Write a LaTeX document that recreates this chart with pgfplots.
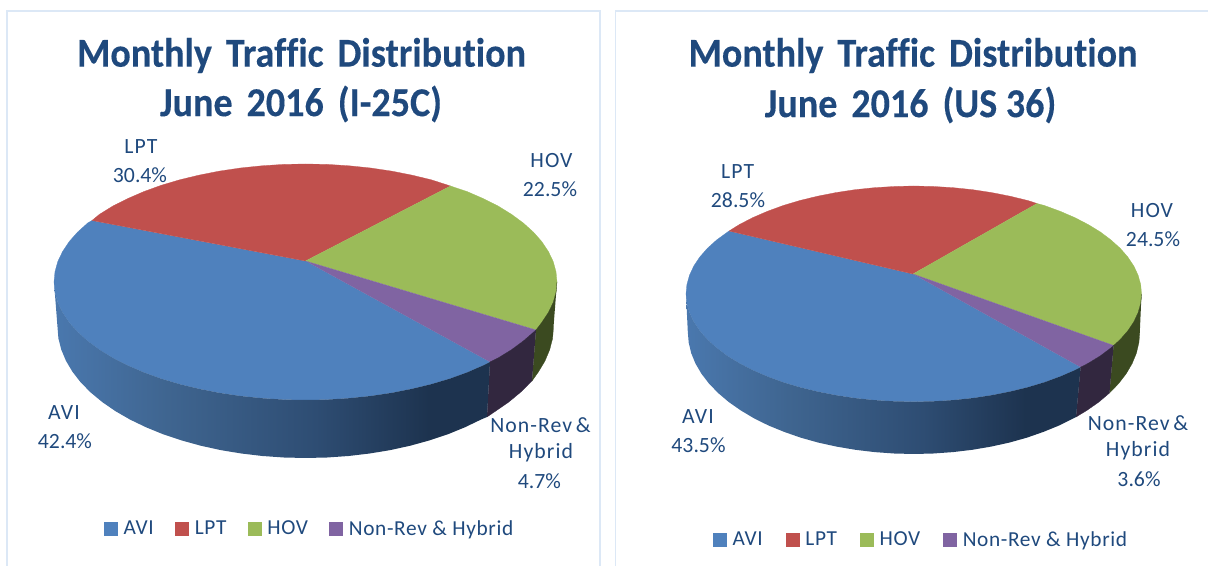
\documentclass[border=0pt]{standalone}
\usepackage{graphicx}
\usepackage{pgfplots}
\pgfplotsset{compat=1.18}
\usepackage{fontspec}
\setmainfont{Carlito}[Ligatures=NoCommon]
\definecolor{aviC}{HTML}{4F81BD}
\definecolor{lptC}{HTML}{C0504D}
\definecolor{hovC}{HTML}{9BBB59}
\definecolor{nonC}{HTML}{8064A2}
\definecolor{hovS}{HTML}{3B4A20}
\definecolor{nonS}{HTML}{32273F}
\definecolor{txtC}{HTML}{1F497D}
\definecolor{panC}{HTML}{DCE8F6}
\definecolor{s1}{HTML}{4A78AE}
\definecolor{s2}{HTML}{3F6590}
\definecolor{s3}{HTML}{2E4D73}
\definecolor{s4}{HTML}{1D334F}
\pgfdeclarehorizontalshading{aviside}{100bp}{color(0bp)=(s1); color(25bp)=(s1); color(38bp)=(s2); color(55bp)=(s3); color(68bp)=(s4); color(75bp)=(s4); color(100bp)=(s4)}
\pgfplotsset{
  panel/.style={
    scale only axis, width=906pt, height=424.5pt,
    xmin=0, xmax=1208, ymin=0, ymax=566, y dir=reverse,
    hide axis, clip=false, legend columns=4,
    legend image code/.code={\path[##1,draw=none] (0pt,-5.25pt) rectangle (10.5pt,5.25pt);\path[draw=none,fill=none] (0pt,0pt) rectangle (12.75pt,0.1pt);},
    legend style={draw=none, fill=none, font=\fontsize{16pt}{18pt}\selectfont\addfontfeature{LetterSpace=3}, text=txtC, inner sep=0pt, outer sep=0pt,
      /tikz/every even column/.append style={column sep=14pt}},
  },
}
\newcommand{\dl}[3]{\node[text=txtC, font=\fontsize{16.3pt}{19pt}\selectfont, inner sep=0pt] at (axis cs:#1,#2) {#3};}
\newcommand{\dlt}[3]{\node[text=txtC, font=\fontsize{16.3pt}{19pt}\selectfont\addfontfeature{LetterSpace=5}, inner sep=0pt] at (axis cs:#1,#2) {#3};}
\newcommand{\ttl}[3]{\node[text=txtC, font=\fontsize{28pt}{32pt}\selectfont\bfseries\addfontfeature{FakeBold=0.25}, inner sep=0pt] at (axis cs:#1,#2) {\scalebox{1.02}[1.1]{#3}};}
\newcommand{\wsp}{\hspace{0.14em}}
\begin{document}
\begin{tikzpicture}
\useasboundingbox (0,0) rectangle (906pt,424.5pt);
\begin{axis}[panel, legend style={at={(104/1208,1-529/566)}, anchor=west}]
\addplot[forget plot, draw=panC, line width=1.1pt] coordinates {(7,566)(7,11)(600,11)(600,566)};
% top faces
\addplot[fill=aviC, draw=aviC, line width=0.2pt] coordinates {(305.5,261)(490,362)(483.3,365.4)(467.2,372.4)(449.8,378.7)(431.3,384.2)(411.8,388.9)(391.5,392.9)(370.6,396)(349.2,398.2)(327.4,399.6)(305.5,400)(283.6,399.6)(261.8,398.2)(240.4,396)(219.5,392.9)(199.2,388.9)(179.7,384.2)(161.2,378.7)(143.8,372.4)(127.7,365.4)(112.8,357.9)(99.5,349.7)(87.7,341)(77.6,331.9)(69.2,322.4)(62.6,312.5)(57.8,302.5)(55,292.3)(54,282)(55,271.7)(57.8,261.5)(62.6,251.5)(69.2,241.6)(77.6,232.1)(87.7,223)(92,220.5)};
\addplot[fill=lptC, draw=lptC, line width=0.2pt] coordinates {(305.5,261)(92,220.5)(99.5,214.3)(112.8,206.1)(127.7,198.6)(143.8,191.6)(161.2,185.3)(179.7,179.8)(199.2,175.1)(219.5,171.1)(240.4,168)(261.8,165.8)(283.6,164.4)(305.5,164)(327.4,164.4)(349.2,165.8)(370.6,168)(391.5,171.1)(411.8,175.1)(431.3,179.8)(450.5,186)};
\addplot[fill=hovC, draw=hovC, line width=0.2pt] coordinates {(305.5,261)(450.5,186)(467.2,191.6)(483.3,198.6)(498.2,206.1)(511.5,214.3)(523.3,223)(533.4,232.1)(541.8,241.6)(548.4,251.5)(553.2,261.5)(556,271.7)(557,282)(556,292.3)(553.2,302.5)(548.4,312.5)(541.8,322.4)(536,330)};
\addplot[fill=nonC, draw=nonC, line width=0.2pt] coordinates {(305.5,261)(536,330)(523.3,341)(511.5,349.7)(498.2,357.9)(490,362)};
% sides
\addplot[forget plot, fill=hovS, draw=hovS, line width=0.2pt] coordinates {(557,282)(556,292.3)(553.2,302.5)(548.4,312.5)(541.8,322.4)(536,330)(532,381)(538.5,371.8)(545,360.9)(549.7,349.7)(552.6,338.4)(553.5,327)};
\addplot[forget plot, fill=nonS, draw=nonS, line width=0.2pt] coordinates {(536,330)(523.3,341)(511.5,349.7)(498.2,357.9)(490,362)(487,417)(495.5,411.2)(508.7,402.1)(520.3,392.5)(532,381)};
\addplot[forget plot, draw=none, shading=aviside] coordinates {(490,362)(483.3,365.4)(467.2,372.4)(449.8,378.7)(431.3,384.2)(411.8,388.9)(391.5,392.9)(370.6,396)(349.2,398.2)(327.4,399.6)(305.5,400)(283.6,399.6)(261.8,398.2)(240.4,396)(219.5,392.9)(199.2,388.9)(179.7,384.2)(161.2,378.7)(143.8,372.4)(127.7,365.4)(112.8,357.9)(99.5,349.7)(87.7,341)(77.6,331.9)(69.2,322.4)(62.6,312.5)(57.8,302.5)(55,292.3)(54,282)(57.5,327)(58.4,338.4)(61.3,349.7)(66,360.9)(72.5,371.8)(80.7,382.4)(90.7,392.5)(102.3,402.1)(115.5,411.2)(130.1,419.6)(146.1,427.3)(163.2,434.3)(181.5,440.4)(200.7,445.7)(220.7,450.1)(241.3,453.5)(262.4,456)(283.9,457.5)(305.5,458)(327.1,457.5)(348.6,456)(369.7,453.5)(390.3,450.1)(410.3,445.7)(429.5,440.4)(447.8,434.3)(464.9,427.3)(480.9,419.6)(487,417)};
\legend{AVI,LPT,HOV,Non-Rev \& Hybrid}
\ttl{301.5}{55.5}{Monthly\wsp{} Traffic\wsp{} Distribution}
\ttl{301}{104}{June\wsp{} 2016\wsp{} (I-25C)}
\dlt{141}{147}{LPT}\dl{140}{175}{30.4\%}
\dlt{551.5}{161}{HOV}\dl{550}{189}{22.5\%}
\dlt{64}{413}{AVI}\dl{65}{441}{42.4\%}
\dlt{540.5}{425}{Non-Rev\,\&}\dlt{541}{453}{Hybrid}\dl{539.5}{481}{4.7\%}
\end{axis}
\begin{axis}[panel, legend style={at={(713/1208,1-540/566)}, anchor=west, /tikz/every even column/.append style={column sep=15.2pt}}]
\addplot[forget plot, draw=panC, line width=1.1pt] coordinates {(615.5,566)(615.5,11)(1208,11)};
\addplot[fill=aviC, draw=aviC, line width=0.2pt] coordinates {(913,274)(1080.6,367.2)(1074.8,370.2)(1060.2,376.5)(1044.4,382.3)(1027.7,387.3)(1010,391.6)(991.7,395.2)(972.7,398.1)(953.3,400.1)(933.7,401.3)(913.8,401.7)(893.9,401.3)(874.3,400.1)(854.9,398.1)(835.9,395.2)(817.6,391.6)(799.9,387.3)(783.2,382.3)(767.4,376.5)(752.8,370.2)(739.3,363.2)(727.2,355.8)(716.6,347.8)(707.4,339.5)(699.8,330.8)(693.8,321.8)(689.5,312.6)(686.9,303.3)(686,293.9)(686.9,284.5)(689.5,275.2)(693.8,266)(699.8,257)(707.4,248.3)(716.6,240)(729,231)};
\addplot[fill=lptC, draw=lptC, line width=0.2pt] coordinates {(913,274)(729,231)(739.3,224.6)(752.8,217.6)(767.4,211.3)(783.2,205.5)(799.9,200.5)(817.6,196.2)(835.9,192.6)(854.9,189.7)(874.3,187.7)(893.9,186.5)(913.8,186)(933.7,186.5)(953.3,187.7)(972.7,189.7)(991.7,192.6)(1010,196.2)(1027.7,200.5)(1037,203.5)};
\addplot[fill=hovC, draw=hovC, line width=0.2pt] coordinates {(913,274)(1037,203.5)(1044.4,205.5)(1060.2,211.3)(1074.8,217.6)(1088.3,224.6)(1100.4,232)(1111,240)(1120.2,248.3)(1127.8,257)(1133.8,266)(1138.1,275.2)(1140.7,284.5)(1141.5,293.9)(1140.7,303.3)(1138.1,312.6)(1133.8,321.8)(1127.8,330.8)(1120.2,339.5)(1113.6,345.5)};
\addplot[fill=nonC, draw=nonC, line width=0.2pt] coordinates {(913,274)(1113.6,345.5)(1111,347.8)(1100.4,355.8)(1088.3,363.2)(1080.6,367.2)};
\addplot[forget plot, fill=hovS, draw=hovS, line width=0.2pt] coordinates {(1141.5,293.9)(1140.7,303.3)(1138.1,312.6)(1133.8,321.8)(1127.8,330.8)(1120.2,339.5)(1113.6,345.5)(1109.5,393)(1118.6,383.6)(1126.2,373.7)(1132.1,363.6)(1136.4,353.2)(1138.9,342.6)(1139.8,332)};
\addplot[forget plot, fill=nonS, draw=nonS, line width=0.2pt] coordinates {(1113.6,345.5)(1111,347.8)(1100.4,355.8)(1088.3,363.2)(1080.6,367.2)(1076,417)(1086.9,410.4)(1098.9,402)(1109.5,393)};
\addplot[forget plot, draw=none, shading=aviside] coordinates {(1080.6,367.2)(1074.8,370.2)(1060.2,376.5)(1044.4,382.3)(1027.7,387.3)(1010,391.6)(991.7,395.2)(972.7,398.1)(953.3,400.1)(933.7,401.3)(913.8,401.7)(893.9,401.3)(874.3,400.1)(854.9,398.1)(835.9,395.2)(817.6,391.6)(799.9,387.3)(783.2,382.3)(767.4,376.5)(752.8,370.2)(739.3,363.2)(727.2,355.8)(716.6,347.8)(707.4,339.5)(699.8,330.8)(693.8,321.8)(689.5,312.6)(686.9,303.3)(686,293.9)(687.8,332)(688.7,342.6)(691.2,353.2)(695.5,363.6)(701.4,373.7)(709,383.6)(718.1,393)(728.7,402)(740.7,410.4)(754,418.3)(768.5,425.5)(784.2,431.9)(800.8,437.7)(818.3,442.6)(836.5,446.6)(855.3,449.8)(874.6,452.1)(894.1,453.5)(913.8,454)(933.5,453.5)(953,452.1)(972.3,449.8)(991.1,446.6)(1009.3,442.6)(1026.8,437.7)(1043.4,431.9)(1059.1,425.5)(1073.6,418.3)(1076,417)};
\legend{AVI,LPT,HOV,Non-Rev \& Hybrid}
\ttl{913}{55.5}{Monthly\wsp{} Traffic\wsp{} Distribution}
\ttl{910.5}{105}{June\wsp{} 2016\wsp{} (US 36)}
\dlt{737.6}{172}{LPT}\dl{738}{200}{28.5\%}
\dlt{1152}{211}{HOV}\dl{1153}{239}{24.5\%}
\dlt{698}{417}{AVI}\dl{698.5}{445}{43.5\%}
\dlt{1138}{423}{Non-Rev\,\&}\dlt{1138}{451}{Hybrid}\dl{1139}{479}{3.6\%}
\end{axis}
\end{tikzpicture}
\end{document}
